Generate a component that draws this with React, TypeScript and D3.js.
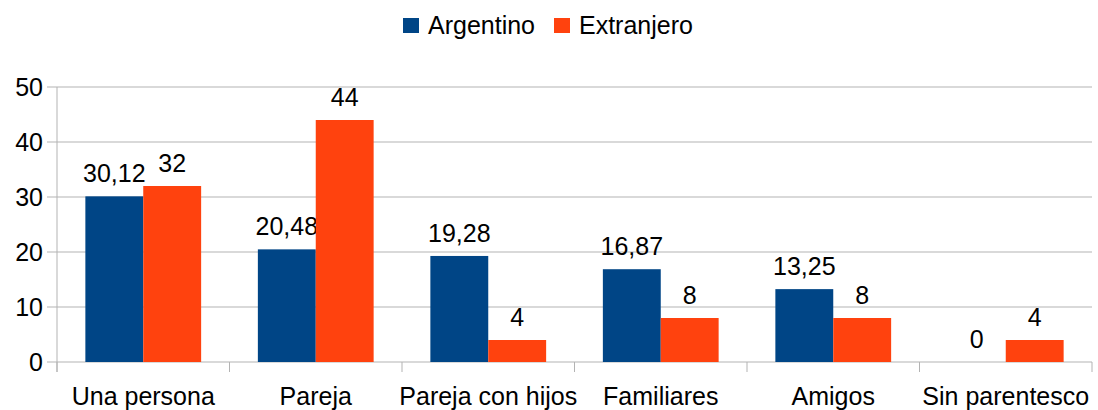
import React from "react";
import * as d3 from "d3";

const categories = ["Una persona", "Pareja", "Pareja con hijos", "Familiares", "Amigos", "Sin parentesco"];
const seriesNames = ["Argentino", "Extranjero"];
const argentino = [30.12, 20.48, 19.28, 16.87, 13.25, 0];
const extranjero = [32, 44, 4, 8, 8, 4];
const yTicks = [0, 10, 20, 30, 40, 50];
const colors = ["#004586", "#ff420e"];

const W = 1098;
const H = 410;
const left = 57;
const right = 1092;
const top = 87;
const bottom = 362;
const FONT = "'Liberation Sans', Arial, sans-serif";
const FS = 25;

function fmt(v: number) {
  return String(v).replace(".", ",");
}

export default function App() {
  const x = d3.scaleBand<string>().domain(categories).range([left, right]).paddingInner(0).paddingOuter(0);
  const inner = d3.scaleBand<string>().domain(seriesNames).range([0, x.bandwidth()]).paddingOuter(0.49).paddingInner(0);
  const y = d3.scaleLinear().domain([0, 50]).range([bottom, top]);
  const data = [argentino, extranjero];
  const bounds = categories.map((c) => x(c) as number).concat([right]);

  return (
    <svg width={W} height={H} style={{ position: "absolute", left: 0, top: 0, background: "#fff" }} fontFamily={FONT}>
      <rect x={0} y={0} width={W} height={H} fill="#fff" />
      {yTicks.map((t) => (
        <g key={t}>
          <line x1={left - 10} x2={right} y1={y(t)} y2={y(t)} stroke="#b3b3b3" strokeWidth={1} />
          <text x={left - 14} y={y(t)} dy="0.35em" textAnchor="end" fontSize={FS} fill="#000">
            {t}
          </text>
        </g>
      ))}
      <line x1={left} x2={left} y1={top} y2={bottom + 10} stroke="#b3b3b3" strokeWidth={1} />
      {bounds.map((b, i) => (
        <line key={i} x1={b} x2={b} y1={bottom} y2={bottom + 10} stroke="#b3b3b3" strokeWidth={1} />
      ))}
      {categories.map((c, ci) => (
        <g key={c}>
          {seriesNames.map((s, si) => {
            const v = data[si][ci];
            const bx = (x(c) as number) + (inner(s) as number);
            return (
              <g key={s}>
                {v > 0 && (
                  <rect x={bx} y={y(v)} width={inner.bandwidth()} height={y(0) - y(v)} fill={colors[si]} />
                )}
                <text x={bx + inner.bandwidth() / 2} y={y(v) - 14} textAnchor="middle" fontSize={FS} fill="#000">
                  {fmt(v)}
                </text>
              </g>
            );
          })}
          <text x={(x(c) as number) + x.bandwidth() / 2} y={405} textAnchor="middle" fontSize={FS} fill="#000">
            {c}
          </text>
        </g>
      ))}
      <g>
        <rect x={403} y={18} width={16} height={15} fill={colors[0]} />
        <text x={428} y={34} fontSize={FS} fill="#000">{seriesNames[0]}</text>
        <rect x={554} y={18} width={16} height={15} fill={colors[1]} />
        <text x={579} y={34} fontSize={FS} fill="#000">{seriesNames[1]}</text>
      </g>
    </svg>
  );
}
